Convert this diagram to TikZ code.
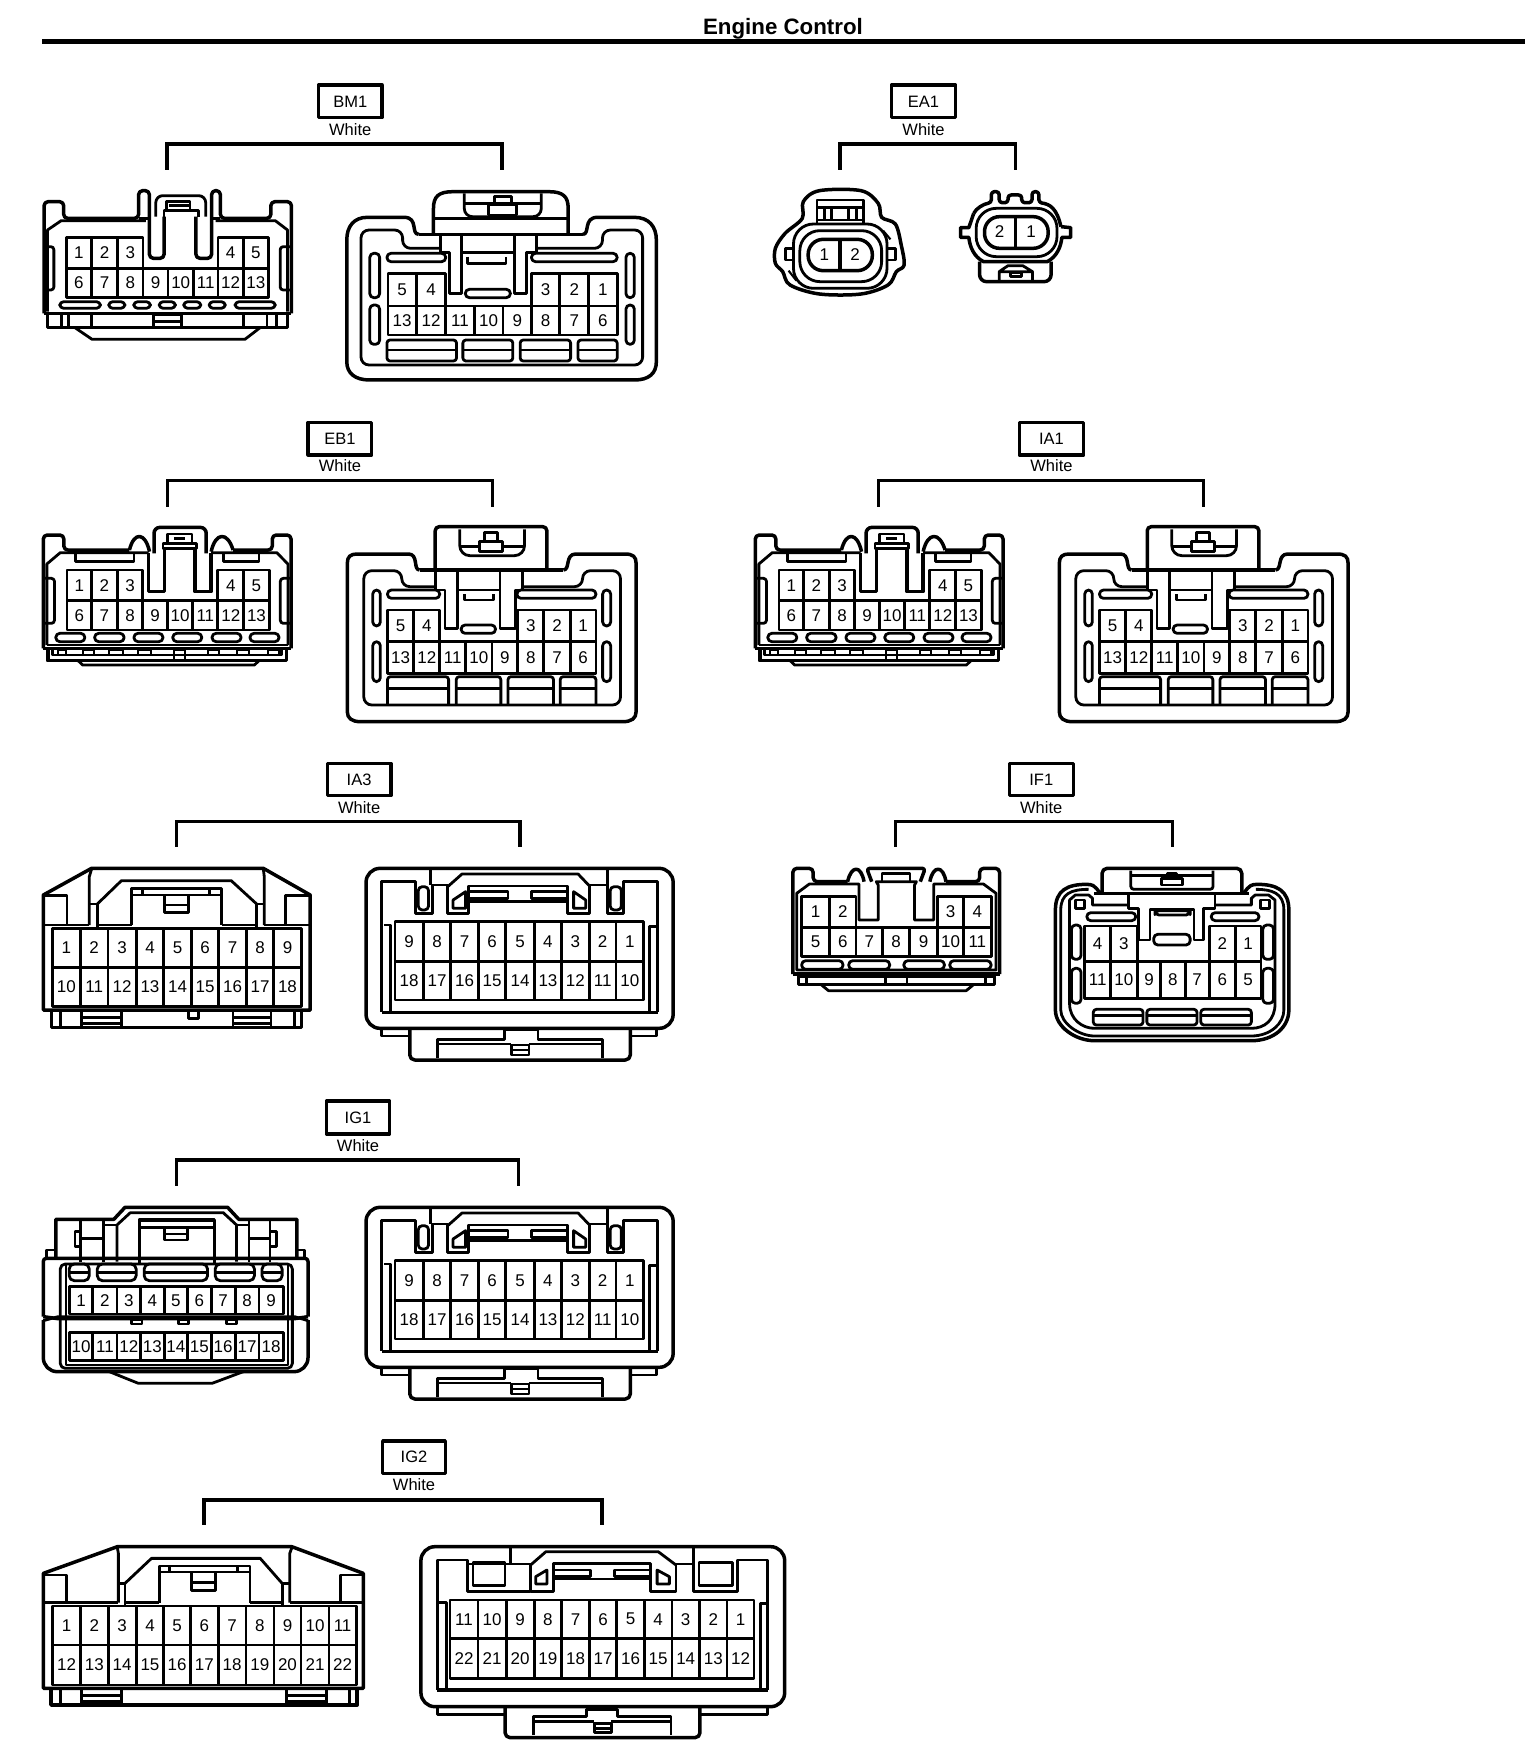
\documentclass[tikz,border=0pt]{standalone}
\usepackage{fontspec}
\setmainfont{Liberation Sans}
\newcounter{pinc}
\tikzset{
 every path/.style={line join=round},
 ol/.style={line width=3.5pt},
 il/.style={line width=2.8pt},
 thn/.style={line width=2.1pt},
 cellbox/.style={line width=2.8pt},
 pin/.style={inner sep=0pt,font=\fontsize{17}{17}\selectfont},
 hlabel/.style={inner sep=0pt,font=\fontsize{16.5}{17}\selectfont},
 hframe/.style={line width=3.2pt},
 brk/.style={line width=3.2pt,line join=miter},
 zm/.style n args={3}{shift={(#1pt,-#2pt)},x=#3pt,y=-0.33333pt},
}
\newcommand\za{0.4898}% zoom x scale 2.04
\newcommand\zb{0.4464}% zoom x scale 2.24
\newcommand\zc{0.3827}% zoom x scale 2.61
\newcommand\zd{0.5102}% zoom x scale 1.96
\newcommand\cellrow[3]{\foreach \ca/\cb/\pl in {#3}{%
  \stepcounter{pinc}%
  \draw[cellbox] (\ca,#1) rectangle (\cb,#2);
  \node[pin] (pin\arabic{pinc}) at ({(\ca+\cb)/2},{(#1+#2)/2}) {\pl};}}
\newcommand\slots[3]{\foreach \ca/\cb in {#3}{\draw[il,rounded corners=4pt] (\ca,#1) rectangle (\cb,#2);}}
\newcommand\hdrbr[5]{%
  \coordinate (#1-a) at (#2,#5);
  \coordinate (#1-b) at (#3,#5);
  \coordinate (#1-t) at (#2,#4);
  \draw[brk] (#1-a) -- (#1-t) -| (#1-b);}
\newcommand\hdr[8]{%
  \draw[hframe] (#3,#5) rectangle (#4,#6);
  \node[hlabel] (#1) at ({(#3+#4)/2},{(#5+#6)/2}) {#2};
  \node[hlabel] (#1-col) at ({(#3+#4)/2},#7) {White};
  \hdrbr{#1}#8}
% ---- small left connector (EB1, IA1), coordinates of zoom 3
\newcommand\EBleft{%
 \draw[ol,rounded corners=4pt] (97,715) -- (97,375) -- (143,375) -- (143,420) -- (290,420);
 \draw[ol] (290,420) .. controls (300,365) and (325,365) .. (335,425);
 \draw[ol] (473,425) .. controls (483,365) and (510,365) .. (522,420);
 \draw[ol,rounded corners=4pt] (522,420) -- (610,420) -- (610,375) -- (652,375) -- (652,715);
 \draw[ol,rounded corners=6pt] (345,430) -- (345,352) -- (462,352) -- (462,430);
 \draw[il] (105,705) -- (105,462) -- (135,428) -- (333,428) (473,428) -- (620,428) -- (645,462) -- (645,705);
 \draw[il] (170,428) -- (170,455) -- (300,455) -- (300,428) (500,428) -- (500,455) -- (580,455) -- (580,428);
 \draw[ol] (333,428) -- (333,545) -- (368,545) -- (368,415) (437,415) -- (437,545) -- (473,545) -- (473,428);
 \draw[il] (365,415) -- (365,400) -- (440,400) -- (440,415) -- cycle (375,400) -- (375,372) -- (430,372) -- (430,400);
 \draw[il] (390,385) -- (415,385);
 \draw[il,rounded corners=3pt] (97,505) -- (122,505) -- (122,640) -- (97,640) (652,505) -- (628,505) -- (628,640) -- (652,640);
 \slots{670}{695}{125/190,212/278,300/365,387/452,475/540,560/625}
 \draw[ol] (97,715) -- (652,715);
 \draw[il] (105,705) -- (645,705);
 \draw[ol] (107,715) -- (107,752) -- (642,752) -- (642,715);
 \draw[il] (118,715) -- (118,735) -- (630,735) -- (630,715);
 \foreach \ca/\cb in {130/147,185/210,245/275,310/338,465/490,530/558,600/625}{\draw[thn] (\ca,735) -- (\ca,720) -- (\cb,720) -- (\cb,735);}
 \draw[thn] (390,720) rectangle (415,750) (390,735) -- (415,735);
 \draw[il] (175,752) -- (185,765) -- (570,765) -- (580,752);
 \cellrow{480}{572}{150/205/1,205/263/2,263/320/3,488/546/4,546/603/5}
 \cellrow{572}{660}{150/205/6,205/263/7,263/320/8,320/375/9,375/432/10,432/488/11,488/546/12,546/603/13}
}
% ---- large right connector (EB1, IA1), coordinates of zoom 3
\newcommand\EBright{%
 \draw[ol] (940,480) -- (1262,480);
 \draw[ol] (940,480) .. controls (925,480) and (938,432) .. (915,432) -- (800,432) .. controls (785,432) and (778,440) .. (778,460) -- (778,905) .. controls (778,925) and (788,935) .. (808,935) -- (1395,935) .. controls (1415,935) and (1425,925) .. (1425,905) -- (1425,460) .. controls (1425,440) and (1418,432) .. (1400,432) -- (1290,432) .. controls (1265,432) and (1278,480) .. (1262,480);
 \draw[ol,rounded corners=4pt] (975,480) -- (975,350) -- (1225,350) -- (1225,480);
 \draw[il,rounded corners=10pt] (1030,358) -- (1030,437) -- (1175,437) -- (1175,358);
 \draw[il] (1030,410) -- (1075,410) (1125,410) -- (1175,410);
 \draw[il] (1085,368) -- (1115,368) -- (1115,395) -- (1085,395) -- cycle (1075,395) rectangle (1125,425);
 \draw[il,rounded corners=8pt] (975,530) -- (900,530) -- (900,482) -- (815,482) -- (815,885) -- (1390,885) -- (1390,482) -- (1305,482) -- (1305,530) -- (1170,530);
 \draw[il] (975,487) -- (975,540) -- (997,540) -- (997,655) -- (1025,655) -- (1025,487);
 \draw[il] (1120,487) -- (1120,655) -- (1155,655) -- (1155,540) -- (1170,540) -- (1170,487);
 \draw[il] (1025,540) -- (1120,540) (1040,552) -- (1040,570) -- (1105,570) -- (1105,552);
 \slots{540}{565}{868/985,1158/1335}
 \slots{645}{670}{1033/1110}
 \slots{540}{648}{835/852,1350/1368}
 \slots{695}{815}{835/852,1350/1368}
 \cellrow{600}{695}{868/927/5,927/985/4,1160/1218/3,1218/1278/2,1278/1335/1}
 \cellrow{695}{790}{868/927/13,927/985/12,985/1043/11,1043/1102/10,1102/1160/9,1160/1218/8,1218/1278/7,1278/1335/6}
 \foreach \ca/\cb in {868/1005,1022/1122,1138/1240,1255/1335}{\draw[il,rounded corners=3pt] (\ca,885) -- (\ca,800) -- (\cb,800) -- (\cb,885); \draw[il] (\ca,835) -- (\cb,835);}
}
% ---- right connector of IA3 and IG1, coordinates of zoom 5
\newcommand\IAright{%
 \draw[ol,rounded corners=14pt] (820,355) rectangle (1508,835);
 \draw[il] (855,785) -- (855,395) -- (930,395) -- (930,490) -- (968,490) -- (968,405) -- (1003,405) -- (1003,490) -- (1050,490) -- (1050,455) -- (1272,455) -- (1272,490) -- (1320,490) -- (1320,405) -- (1360,405) -- (1360,490) -- (1397,490) -- (1397,395) -- (1473,395) -- (1473,785);
 \draw[il] (965,355) -- (965,405) (1360,355) -- (1360,405);
 \draw[il] (1003,410) -- (1035,372) -- (1295,372) -- (1322,410);
 \slots{410}{480}{937/960,1367/1392}
 \draw[il] (1015,475) -- (1015,450) -- (1043,425) -- (1043,475) -- cycle (1285,425) -- (1312,450) -- (1312,475) -- (1285,475) -- cycle;
 \draw[il] (1050,455) -- (1050,408) -- (1272,408) -- (1272,455);
 \draw[il] (1050,425) rectangle (1138,445) (1190,425) rectangle (1272,445);
 \draw[il] (860,525) -- (875,525) -- (875,785) (1455,785) -- (1455,530) -- (1470,530);
 \draw[ol] (855,787) -- (1473,787);
 \cellrow{515}{635}{885/948/9,948/1010/8,1010/1072/7,1072/1133/6,1133/1197/5,1197/1258/4,1258/1320/3,1320/1380/2,1380/1442/1}
 \cellrow{635}{750}{885/948/18,948/1010/17,1010/1072/16,1072/1133/15,1133/1197/14,1197/1258/13,1258/1320/12,1320/1380/11,1380/1442/10}
 \draw[il] (855,835) -- (855,858) -- (918,858) (1470,835) -- (1470,858) -- (1412,858);
 \draw[ol,rounded corners=5pt] (918,835) -- (918,930) -- (1412,930) -- (1412,835);
 \draw[il] (980,925) -- (980,868) -- (1130,868) -- (1130,840) -- (1205,840) -- (1205,868) -- (1350,868) -- (1350,925);
 \draw[il] (980,882) -- (1145,882) (1185,882) -- (1350,882);
 \draw[il] (1145,885) rectangle (1185,915) (1145,900) -- (1185,900);
}
\begin{document}
\begin{tikzpicture}[x=1pt,y=1pt]
\useasboundingbox (0,0) rectangle (1536pt,-1764pt);
\fill[white] (0,0) rectangle (1536pt,-1764pt);
\node[inner sep=0pt,font=\fontsize{22.3}{22}\selectfont\bfseries] (title) at (783pt,-28.5pt) {Engine Control};
\coordinate (ruleL) at (42pt,-41.5pt);
\coordinate (ruleR) at (1525pt,-41.5pt);
\draw[line width=4.7pt] (ruleL) -- (ruleR);
%================ BM1
\begin{scope}[zm={0}{0}{\za}]
 \hdr{BM1}{BM1}{650}{780}{255}{353}{388}{{341}{1025}{432}{510}}
 % left
 \draw[ol,rounded corners=4pt] (90,940) -- (90,605) -- (130,605) -- (130,655) -- (283,655) -- (283,572) -- (305,572) -- (305,775) -- (335,775) -- (335,650);
 \draw[ol,rounded corners=4pt] (400,650) -- (400,775) -- (432,775) -- (432,572) -- (450,572) -- (450,655) -- (553,655) -- (553,605) -- (595,605) -- (595,940);
 \draw[il] (283,655) -- (305,655) (432,655) -- (450,655);
 \draw[il,rounded corners=7pt] (318,650) -- (318,587) -- (420,587) -- (420,650);
 \draw[il] (335,650) -- (335,632) -- (405,632) -- (405,650) (340,632) -- (340,605) -- (388,605) -- (388,632) (345,617) -- (385,617);
 \draw[il] (97,935) -- (97,690) -- (125,662) -- (298,662) (440,662) -- (562,662) -- (587,690) -- (587,935);
 \draw[il,rounded corners=3pt] (90,740) -- (110,740) -- (110,870) -- (90,870) (595,740) -- (572,740) -- (572,870) -- (595,870);
 \slots{905}{925}{122/205,222/255,273/307,325/358,375/410,427/460,480/562}
 \draw[ol] (90,940) -- (595,940);
 \draw[ol] (97,942) -- (97,982) -- (587,982) -- (587,942);
 \draw[il] (125,942) -- (125,982) (140,942) -- (140,982) (187,942) -- (187,982) (497,942) -- (497,982) (545,942) -- (545,982) (565,942) -- (565,982);
 \draw[il] (313,945) rectangle (370,982) (313,965) -- (370,965);
 \draw[il] (152,982) -- (188,1018) -- (500,1018) -- (532,982);
 \cellrow{712}{805}{135/187/1,187/240/2,240/292/3,445/497/4,497/548/5}
 \cellrow{805}{893}{135/187/6,187/240/7,240/292/8,292/343/9,343/395/10,395/445/11,445/497/12,497/548/13}
 % right
 \draw[ol] (855,703) -- (1190,703);
 \draw[ol] (855,703) .. controls (838,703) and (855,652) .. (825,652) -- (750,652) .. controls (722,652) and (708,680) .. (708,720) -- (708,1085) .. controls (708,1120) and (725,1140) .. (755,1140) -- (1295,1140) .. controls (1325,1140) and (1340,1120) .. (1340,1085) -- (1340,720) .. controls (1340,680) and (1325,652) .. (1295,652) -- (1220,652) .. controls (1190,652) and (1205,703) .. (1190,703);
 \draw[ol] (885,703) -- (885,625) .. controls (885,590) and (895,575) .. (925,575) -- (1120,575) .. controls (1150,575) and (1160,590) .. (1160,625) -- (1160,703);
 \draw[ol] (885,655) -- (1160,655);
 \draw[il,rounded corners=8pt] (948,580) -- (948,650) -- (1105,650) -- (1105,580);
 \draw[il] (948,610) -- (1105,610);
 \draw[il] (1010,615) -- (1010,590) -- (1045,590) -- (1045,615) (998,615) rectangle (1055,645);
 \draw[il,rounded corners=8pt] (900,745) -- (822,745) -- (822,690) -- (737,690) -- (737,1095) -- (1312,1095) -- (1312,690) -- (1230,690) -- (1230,745) -- (1095,745);
 \draw[il] (900,705) -- (900,757) -- (918,757) -- (918,880) -- (942,880) -- (942,705);
 \draw[il] (1050,705) -- (1050,880) -- (1075,880) -- (1075,757) -- (1095,757) -- (1095,705);
 \draw[il] (942,757) -- (1050,757) (955,770) -- (955,790) -- (1033,790) -- (1033,770);
 \slots{760}{785}{790/910,1085/1260}
 \slots{868}{893}{950/1042}
 \slots{760}{893}{755/775,1278/1295}
 \slots{915}{1033}{755/775,1278/1295}
 \cellrow{820}{918}{792/850/5,850/910/4,1085/1143/3,1143/1202/2,1202/1260/1}
 \cellrow{918}{1005}{792/850/13,850/910/12,910/968/11,968/1027/10,1027/1085/9,1085/1143/8,1143/1202/7,1202/1260/6}
 \foreach \ca/\cb in {790/932,945/1047,1062/1165,1180/1260}{\draw[il,rounded corners=3pt] (\ca,1083) -- (\ca,1020) -- (\cb,1020) -- (\cb,1083) -- cycle; \draw[il] (\ca,1050) -- (\cb,1050);}
\end{scope}
%================ EA1
\begin{scope}[zm={768}{0}{\za}]
 \hdr{EA1}{EA1}{252}{383}{255}{353}{388}{{147}{505}{432}{510}}
 % left
 \draw[ol] plot[smooth cycle,tension=.55] coordinates {(70,655) (72,605) (105,572) (190,572) (225,610) (232,652) (260,672) (272,735) (278,795) (262,815) (245,855) (190,882) (105,882) (45,855) (30,815) (15,790) (15,745) (35,700)};
 \draw[il,rounded corners=20pt] (52,672) rectangle (243,865);
 \draw[il,rounded corners=20pt] (65,692) rectangle (232,845);
 \draw[ol,rounded corners=15pt] (82,718) rectangle (213,812);
 \draw[ol] (147,716) -- (147,810);
 \draw[il] (35,745) rectangle (52,780) (243,745) rectangle (260,780);
 \draw[il] (100,668) -- (100,600) -- (195,600) -- (195,668);
 \draw[il] (100,622) -- (195,622) (115,622) -- (115,660) (130,622) -- (130,660) (165,622) -- (165,660) (180,622) -- (180,660) (100,660) -- (195,660);
 \draw[thn] (235,692) -- (250,718) (42,812) -- (58,842);
 \node[pin] (ea1a) at (115,765) {1};
 \node[pin] (ea1b) at (178,765) {2};
 % right
 \draw[ol,rounded corners=3pt] (420,640) .. controls (425,625) and (440,612) .. (456,608) -- (456,575) -- (472,575) -- (472,608) -- (490,608) -- (490,585) -- (518,585) -- (518,608) -- (539,608) -- (539,575) -- (553,575) -- (553,608) .. controls (575,612) and (590,625) .. (598,680);
 \draw[ol] (598,680) -- (618,683) -- (618,712) -- (600,712) .. controls (598,740) and (590,770) .. (570,785) -- (440,785) .. controls (420,770) and (412,740) .. (410,712) -- (393,712) -- (393,683) -- (410,683) -- (420,640);
 \draw[il,rounded corners=20pt] (425,625) rectangle (590,770);
 \draw[ol,rounded corners=15pt] (442,650) rectangle (572,745);
 \draw[ol] (505,652) -- (505,743);
 \draw[ol,rounded corners=7pt] (432,785) -- (432,845) -- (578,845) -- (578,785);
 \draw[il] (472,840) -- (472,815) -- (490,797) -- (520,797) -- (540,815) -- (540,840) (472,815) -- (540,815);
 \draw[il] (495,818) rectangle (518,830);
 \node[pin] (ea1c) at (473,695) {2};
 \node[pin] (ea1d) at (537,695) {1};
\end{scope}
%================ EB1
\begin{scope}[zm={0}{410}{\zb}]
 \hdr{EB1}{EB1}{690}{833}{37}{135}{168}{{375}{1103}{212}{290}}
 \EBleft
 \EBright
\end{scope}
%================ IA1
\begin{scope}[zm={712}{410}{\zb}]
 \hdr{IA1}{IA1}{688}{833}{37}{135}{168}{{373}{1101}{212}{290}}
 \EBleft
 \EBright
\end{scope}
%================ IA3
\begin{scope}[zm={0}{750}{\zb}]
 \hdr{IA3}{IA3}{733}{876}{40}{137}{172}{{395}{1165}{215}{290}}
 \draw[ol] (97,780) -- (97,435) -- (205,355) -- (590,355) -- (695,435) -- (695,780) -- cycle;
 \draw[il] (97,437) -- (150,437) -- (150,525) (695,437) -- (640,437) -- (640,525);
 \draw[il] (205,358) -- (200,380) -- (200,525) (590,358) -- (592,380) -- (592,525);
 \draw[il] (200,462) -- (218,462) -- (218,532) (592,462) -- (575,462) -- (575,532);
 \draw[il] (97,525) -- (200,525) (218,525) -- (295,525) (497,525) -- (575,525) (592,525) -- (695,525);
 \draw[il] (218,462) -- (272,392) -- (518,392) -- (575,462);
 \draw[il] (295,525) -- (295,415) -- (497,415) -- (497,525);
 \draw[il] (295,435) -- (497,435) (320,415) -- (320,435) (470,415) -- (470,435);
 \draw[il] (368,435) -- (368,487) -- (422,487) -- (422,435) (368,465) -- (422,465);
 \cellrow{535}{652}{117/180/1,180/242/2,242/305/3,305/367/4,367/429/5,429/490/6,490/552/7,552/613/8,613/675/9}
 \cellrow{652}{770}{117/180/10,180/242/11,242/305/12,305/367/13,367/429/14,429/490/15,490/552/16,552/613/17,613/675/18}
 \draw[ol] (115,780) -- (115,832) -- (675,832) -- (675,780);
 \draw[il] (135,780) -- (135,832) (183,780) -- (183,832) (272,780) -- (272,832) (522,780) -- (522,832) (607,780) -- (607,832) (660,780) -- (660,832);
 \draw[il] (183,802) -- (272,802) (522,802) -- (607,802) (183,820) -- (272,820) (522,820) -- (607,820);
 \draw[il] (422,780) -- (422,805) -- (445,805) -- (445,780);
 \IAright
\end{scope}
%================ IF1
\begin{scope}[zm={750}{750}{\zc}]
 \hdr{IF1}{IF1}{677}{845}{40}{137}{172}{{381}{1103}{215}{290}}
 % left
 \draw[ol,rounded corners=4pt] (112,672) -- (112,355) -- (165,355) -- (165,395) -- (255,395);
 \draw[ol] (255,395) .. controls (265,345) and (290,345) .. (298,395);
 \draw[ol] (470,395) .. controls (478,345) and (505,345) .. (512,395);
 \draw[ol,rounded corners=4pt] (512,395) -- (600,395) -- (600,355) -- (652,355) -- (652,672);
 \draw[ol,rounded corners=3pt] (318,395) -- (305,355) -- (458,355) -- (445,395);
 \draw[il] (122,660) -- (122,430) -- (155,402) -- (285,402) -- (285,510) -- (335,510) -- (335,405) -- (330,395) -- (435,395) -- (430,405) -- (430,510) -- (480,510) -- (480,402) -- (610,402) -- (643,430) -- (643,660) -- cycle;
 \draw[il] (345,395) -- (345,370) -- (418,370) -- (418,395);
 \cellrow{440}{532}{135/208/1,208/277/2,490/558/3,558/630/4}
 \cellrow{532}{620}{135/208/5,208/277/6,277/347/7,347/417/8,417/490/9,490/558/10,558/630/11}
 \slots{632}{658}{135/243,258/365,402/508,522/630}
 \draw[ol] (112,672) -- (652,672);
 \draw[il] (127,672) -- (127,703) -- (638,703) -- (638,672);
 \draw[il] (148,680) -- (148,703) (355,680) -- (355,703) (410,680) -- (410,703) (615,680) -- (615,703) (127,680) -- (638,680);
 \draw[ol] (127,703) -- (638,703);
 \draw[il] (185,703) -- (205,722) -- (565,722) -- (585,703);
 % right
 \draw[ol,rounded corners=5pt] (920,428) -- (920,355) -- (1285,355) -- (1285,428);
 \draw[ol] (900,430) -- (1305,430);
 \draw[ol] (920,430) .. controls (905,428) and (910,403) .. (880,403) .. controls (830,403) and (798,420) .. (798,480) -- (798,780) .. controls (798,830) and (850,872) .. (900,872) -- (1310,872) .. controls (1370,872) and (1408,830) .. (1408,780) -- (1408,480) .. controls (1408,420) and (1375,403) .. (1325,403) .. controls (1295,403) and (1300,428) .. (1285,430);
 \draw[il] (885,418) .. controls (840,418) and (812,430) .. (812,480) -- (812,780) .. controls (812,820) and (860,858) .. (900,858) -- (1310,858) .. controls (1360,858) and (1395,820) .. (1395,780) -- (1395,480) .. controls (1395,430) and (1365,418) .. (1322,418);
 \draw[il] (990,465) -- (895,465) -- (895,445) -- (885,435) -- (850,435) -- (835,450) -- (835,760) .. controls (835,810) and (870,835) .. (900,835) -- (1310,835) .. controls (1345,835) and (1372,810) .. (1372,760) -- (1372,450) -- (1355,435) -- (1320,435) -- (1310,445) -- (1310,465) -- (1215,465);
 \draw[il,rounded corners=3pt] (995,362) -- (995,418) -- (1210,418) -- (1210,362);
 \draw[il] (995,377) -- (1210,377);
 \draw[il] (1075,385) rectangle (1130,405) (1090,385) -- (1090,370) -- (1115,370) -- (1115,385);
 \draw[il] (990,435) -- (990,475) -- (1015,475) -- (1015,570) -- (1045,570) -- (1045,478) -- (1160,478) -- (1160,570) -- (1185,570) -- (1185,475) -- (1215,475) -- (1215,435);
 \slots{488}{512}{880/1008,1205/1330}
 \slots{553}{585}{1055/1150}
 \slots{482}{495}{1058/1150}
 \slots{525}{628}{840/865,1340/1368}
 \slots{655}{760}{840/865,1340/1368}
 \draw[il] (850,450) rectangle (875,475) (1333,450) rectangle (1358,475);
 \cellrow{528}{635}{875/942/4,942/1012/3,1200/1268/2,1268/1335/1}
 \cellrow{635}{745}{875/942/11,942/1012/10,1012/1073/9,1073/1137/8,1137/1200/7,1200/1268/6,1268/1335/5}
 \foreach \ca/\cb in {897/1027,1037/1168,1178/1310}{\draw[il,rounded corners=3pt] (\ca,825) -- (\ca,778) -- (\cb,778) -- (\cb,825) -- cycle; \draw[il] (\ca,797) -- (\cb,797);}
\end{scope}
%================ IG1
\begin{scope}[zm={0}{1090}{\zb}]
 \hdr{IG1}{IG1}{731}{873}{33}{132}{167}{{395}{1162}{210}{287}}
 \draw[ol] (125,505) -- (125,388) -- (255,388) -- (280,352) -- (510,352) -- (535,388) -- (665,388) -- (665,505);
 \draw[il] (262,515) -- (262,405) -- (292,368) -- (500,368) -- (530,405) -- (530,515);
 \draw[ol] (312,520) -- (312,390) -- (480,390) -- (480,520);
 \draw[il] (312,412) -- (480,412) (368,412) -- (368,450) -- (420,450) -- (420,412) (368,432) -- (420,432);
 \draw[il] (180,390) -- (180,515) (232,390) -- (232,515) (558,390) -- (558,515) (605,390) -- (605,515);
 \draw[il] (180,445) -- (232,445) (558,445) -- (605,445) (232,405) -- (262,405) (530,405) -- (558,405);
 \draw[il] (180,425) -- (168,425) -- (168,470) -- (180,470) (605,425) -- (620,425) -- (620,470) -- (605,470);
 \draw[ol,rounded corners=3pt] (97,680) -- (97,505) -- (690,505) -- (690,680);
 \draw[il] (105,505) -- (105,480) -- (125,480) (683,505) -- (683,480) -- (665,480);
 \draw[ol,rounded corners=14pt] (97,690) -- (97,845) -- (690,845) -- (690,690);
 \draw[ol] (97,680) -- (130,686) -- (660,686) -- (690,680);
 \draw[il] (97,692) -- (130,680) -- (660,680) -- (690,692);
 \draw[il,rounded corners=5pt] (135,835) -- (135,522) -- (655,522) -- (655,835) -- cycle;
 \draw[il] (148,522) -- (148,825) -- (645,825) -- (645,522);
 \foreach \ca/\cb in {155/200,218/305,323/465,482/570,587/632}{\draw[il,rounded corners=5pt] (\ca,522) rectangle (\cb,572); \draw[il] (\ca,548) -- (\cb,548);}
 \cellrow{590}{672}{155/208/1,208/262/2,262/315/3,315/368/4,368/420/5,420/473/6,473/527/7,527/580/8,580/635/9}
 \cellrow{728}{812}{155/208/10,208/262/11,262/315/12,315/368/13,368/420/14,420/473/15,473/527/16,527/580/17,580/635/18}
 \draw[il] (295,688) rectangle (318,702) (400,688) rectangle (422,702) (507,688) rectangle (530,702);
 \draw[il] (245,845) -- (310,880) -- (475,880) -- (545,845);
\end{scope}
\begin{scope}[zm={0}{1089}{\zb}]
 \IAright
\end{scope}
%================ IG2
\begin{scope}[zm={0}{1420}{\zd}]
 \hdr{IG2}{IG2}{750}{873}{63}{160}{193}{{400}{1180}{240}{314}}
 % left
 \draw[ol] (85,805) -- (85,460) -- (230,380) -- (572,380) -- (712,460) -- (712,805) -- cycle;
 \draw[il] (85,465) -- (130,465) -- (130,548) (712,465) -- (668,465) -- (668,548);
 \draw[il] (230,383) -- (232,400) -- (232,548) (572,383) -- (568,400) -- (568,548);
 \draw[il] (232,490) -- (245,490) -- (245,556) (568,490) -- (553,490) -- (553,556);
 \draw[il] (85,548) -- (232,548) (245,548) -- (312,548) (490,548) -- (553,548) (568,548) -- (712,548);
 \draw[il] (245,490) -- (297,415) -- (510,415) -- (553,490);
 \draw[il] (312,548) -- (312,438) -- (490,438) -- (490,548);
 \draw[il] (312,456) -- (490,456) (332,438) -- (332,456) (465,438) -- (465,456);
 \draw[il] (375,456) -- (375,512) -- (422,512) -- (422,456) (375,488) -- (422,488);
 \cellrow{558}{675}{103/158/1,158/212/2,212/267/3,267/321/4,321/373/5,373/428/6,428/482/7,482/537/8,537/590/9,590/645/10,645/698/11}
 \cellrow{675}{795}{103/158/12,158/212/13,212/267/14,267/321/15,321/373/16,373/428/17,428/482/18,482/537/19,537/590/20,590/645/21,645/698/22}
 \draw[ol] (100,805) -- (100,855) -- (700,855) -- (700,805);
 \draw[il] (118,805) -- (118,855) (160,805) -- (160,855) (238,805) -- (238,855) (562,805) -- (562,855) (640,805) -- (640,855) (685,805) -- (685,855);
 \draw[il] (160,826) -- (238,826) (562,826) -- (640,826) (160,845) -- (238,845) (562,845) -- (640,845);
 % right
 \draw[ol,rounded corners=14pt] (825,380) rectangle (1538,860);
 \draw[il] (857,810) -- (857,420) -- (917,420) -- (917,515) -- (1040,515) -- (1040,432) -- (1000,432) (1000,385) -- (1000,432) -- (917,432);
 \draw[il] (1040,515) -- (1085,515) -- (1085,477) -- (1275,477) -- (1275,515) -- (1325,515) -- (1325,432) -- (1360,432) -- (1360,385) (1360,432) -- (1360,515) -- (1445,515) -- (1445,420) -- (1505,420) -- (1505,810);
 \draw[il] (927,428) rectangle (990,497) (1370,428) rectangle (1435,497);
 \draw[il] (1040,435) -- (1070,395) -- (1290,395) -- (1325,435);
 \draw[il] (1050,492) -- (1050,470) -- (1072,450) -- (1072,492) -- cycle (1288,450) -- (1312,470) -- (1312,492) -- (1288,492) -- cycle;
 \draw[il] (1085,477) -- (1085,430) -- (1275,430) -- (1275,477);
 \draw[il] (1085,450) rectangle (1158,470) (1205,450) rectangle (1275,470);
 \draw[il] (860,548) -- (875,548) -- (875,808) (1490,808) -- (1490,550) -- (1505,550);
 \draw[ol] (857,810) -- (1505,810);
 \cellrow{540}{655}{882/937/11,937/992/10,992/1047/9,1047/1101/8,1101/1155/7,1155/1209/6,1209/1263/5,1263/1317/4,1317/1371/3,1371/1425/2,1425/1478/1}
 \cellrow{655}{775}{882/937/22,937/992/21,992/1047/20,1047/1101/19,1101/1155/18,1155/1209/17,1209/1263/16,1263/1317/15,1317/1371/14,1371/1425/13,1425/1478/12}
 \draw[il] (857,860) -- (857,883) -- (990,883) (1505,860) -- (1505,883) -- (1372,883);
 \draw[ol,rounded corners=5pt] (990,860) -- (990,953) -- (1372,953) -- (1372,860);
 \draw[il] (1045,945) -- (1045,890) -- (1150,890) -- (1150,868) -- (1210,868) -- (1210,890) -- (1315,890) -- (1315,945);
 \draw[il] (1045,905) -- (1165,905) (1198,905) -- (1315,905);
 \draw[il] (1165,910) rectangle (1198,938) (1165,925) -- (1198,925);
\end{scope}
\end{tikzpicture}
\end{document}
